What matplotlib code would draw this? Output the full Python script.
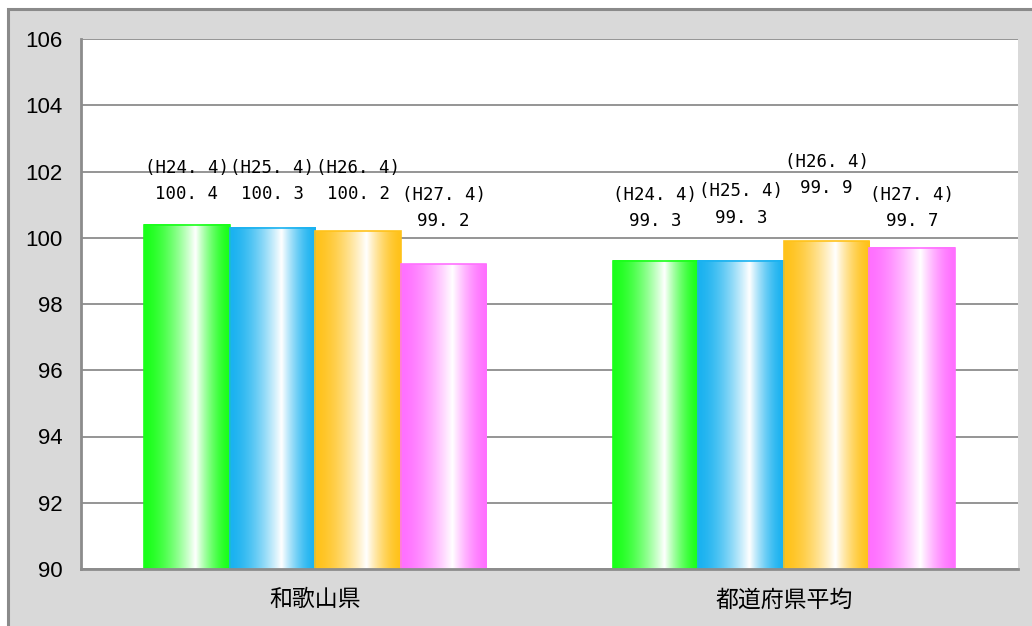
import numpy as np
import matplotlib

matplotlib.use("Agg")

import matplotlib.pyplot as plt
from matplotlib.colors import to_rgb
from matplotlib.patches import Rectangle

# データ
categories = ["和歌山県", "都道府県平均"]
periods = ["H24.4", "H25.4", "H26.4", "H27.4"]
values = {
    "H24.4": [100.4, 99.3],
    "H25.4": [100.3, 99.3],
    "H26.4": [100.2, 99.9],
    "H27.4": [99.2, 99.7],
}
# ラベル中心の高さ (値の単位)
label_y = {
    "H24.4": [101.72, 100.9],
    "H25.4": [101.72, 101.0],
    "H26.4": [101.72, 101.9],
    "H27.4": [100.9, 100.9],
}
colors = ["#1aff1a", "#1ab2f0", "#ffc21a", "#ff70ff"]
yticks = [90, 92, 94, 96, 98, 100, 102, 104, 106]

plt.rcParams['font.family'] = ['Noto Sans CJK JP', 'DejaVu Sans']

fig = plt.figure(figsize=(10.32, 6.26), dpi=100)
fig.patch.set_facecolor("white")
# 外枠
frame = Rectangle((8 / 1032, -0.1), 1.2, (626 - 9) / 626 + 0.1,
                  transform=fig.transFigure, facecolor="#d9d9d9",
                  edgecolor="#8a8a8a", linewidth=2.2, zorder=-10)
fig.patches.append(frame)

ax = fig.add_axes([81 / 1032, (626 - 569) / 626, (1018 - 81) / 1032, (569 - 39) / 626])
ax.set_zorder(5)
ax.set_facecolor("white")

x = np.arange(len(categories))
width = 0.1825


def gradient(color):
    c = np.array(to_rgb(color))
    t = np.linspace(0, 1, 200)
    m = np.where(t < 0.6, t / 0.6, (1 - t) / 0.4)
    m = np.clip(m, 0, 1) ** 1.6
    img = c[None, :] * (1 - m[:, None]) + np.ones(3)[None, :] * m[:, None]
    return img[None, :, :]


for i, p in enumerate(periods):
    offs = (i - 1.5) * width
    bars = ax.bar(x + offs, values[p], width, bottom=0, color="none",
                  edgecolor=colors[i], linewidth=1.2, zorder=3)
    for j, b in enumerate(bars):
        x0 = b.get_x()
        x1 = x0 + b.get_width()
        ax.imshow(gradient(colors[i]), extent=(x0, x1, 90, b.get_height()),
                  aspect="auto", zorder=2, interpolation="bilinear")
        ax.text(x0 + b.get_width() / 2, label_y[p][j],
                "(%s)\n%s" % (p.replace(".", ". "),
                              ("%.1f" % values[p][j]).replace(".", ". ")),
                ha="center", va="center", fontsize=12.5,
                family=["DejaVu Sans Mono"], linespacing=1.6, zorder=4)

ax.set_xlim(-0.5, 1.5)
ax.set_ylim(90, 106)
ax.set_yticks(yticks)
ax.set_yticklabels([str(v) for v in yticks], family=["Liberation Sans"], fontsize=16)
ax.set_xticks(x)
ax.set_xticklabels(categories, fontsize=16.5)
ax.tick_params(axis="both", length=0)
ax.tick_params(axis="y", pad=13)
ax.tick_params(axis="x", pad=14)
ax.grid(axis="y", color="#8c8c8c", linewidth=1.3, zorder=1)
ax.set_axisbelow(True)
for s in ["top", "right"]:
    ax.spines[s].set_visible(False)
for s in ["left", "bottom"]:
    ax.spines[s].set_color("#8c8c8c")
    ax.spines[s].set_linewidth(2)
    ax.spines[s].set_zorder(5)

fig.savefig("out.png", dpi=100)
